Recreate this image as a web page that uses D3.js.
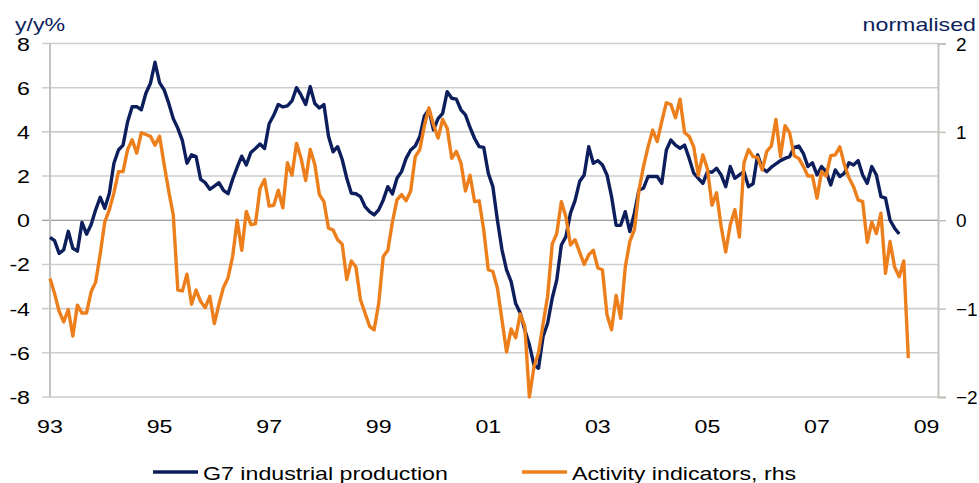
<!DOCTYPE html>
<html>
<head>
<meta charset="utf-8">
<script src="https://cdn.jsdelivr.net/npm/d3@7"></script>
<style>
  body { margin: 0; background: #fff; overflow: hidden; }
  svg { display: block; }
  svg text { font-family: "Liberation Sans", Arial, sans-serif; }
</style>
</head>
<body>
<div id="chart"></div>
<script>
// monthly values, Jan 1993 onwards
const yearTicks = ["93", "95", "97", "99", "01", "03", "05", "07", "09"];
const leftTicks = [-8, -6, -4, -2, 0, 2, 4, 6, 8];
const rightTicks = [-2, -1, 0, 1, 2];
const seriesNames = ["G7 industrial production", "Activity indicators, rhs"];

// G7 industrial production, % y/y (lhs)
const g7Production = [
  -0.77, -0.92, -1.5, -1.34, -0.5, -1.27, -1.4, -0.1, -0.63, -0.2, 0.47, 1.04,
  0.54, 1.22, 2.58, 3.18, 3.4, 4.46, 5.14, 5.14, 5.0, 5.75, 6.2, 7.15,
  6.23, 5.9, 5.3, 4.6, 4.16, 3.6, 2.58, 2.96, 2.88, 1.85, 1.7, 1.4,
  1.55, 1.7, 1.35, 1.2, 1.85, 2.4, 2.9, 2.5, 3.07, 3.25, 3.45, 3.25,
  4.37, 4.75, 5.24, 5.13, 5.18, 5.4, 6.0, 5.66, 5.24, 6.05, 5.28, 5.08,
  5.24, 3.8, 3.1, 3.33, 2.75, 1.9, 1.22, 1.2, 1.07, 0.62, 0.39, 0.24,
  0.47, 0.92, 1.52, 1.19, 1.9, 2.2, 2.8, 3.18, 3.36, 3.79, 4.72, 5.0,
  4.09, 4.6, 4.84, 5.82, 5.52, 5.48, 5.0, 4.77, 4.2, 3.7, 3.33, 3.3,
  2.13, 1.52, 0.0, -1.34, -2.25, -2.78, -3.77, -4.2, -4.97, -5.64, -6.55, -6.7,
  -5.26, -4.66, -3.53, -2.7, -1.12, -0.74, 0.32, 0.89, 1.75, 2.05, 3.33, 2.58,
  2.7, 2.5, 2.05, 1.07, -0.23, -0.23, 0.39, -0.51, 0.32, 1.37, 1.45, 1.98,
  1.98, 1.98, 1.67, 3.18, 3.63, 3.4, 3.26, 3.4, 2.8, 2.13, 1.9, 1.67,
  2.2, 2.17, 2.35, 2.05, 1.52, 2.43, 1.9, 2.05, 2.2, 1.52, 1.65, 2.96,
  2.35, 2.2, 2.4, 2.55, 2.7, 2.8, 2.88, 3.3, 3.36, 3.03, 2.43, 2.6,
  2.05, 2.43, 2.2, 1.6, 2.28, 1.98, 2.13, 2.6, 2.5, 2.7, 2.05, 1.67,
  2.43, 2.05, 1.07, 1.0, 0.0, -0.36, -0.62
];

// Activity indicators, normalised (rhs)
const activityIndicators = [
  -0.66, -0.83, -1.03, -1.15, -1.01, -1.31, -0.96, -1.05, -1.05, -0.81, -0.70, -0.38,
  -0.02, 0.12, 0.31, 0.55, 0.55, 0.80, 0.91, 0.76, 0.99, 0.97, 0.95, 0.85,
  0.95, 0.63, 0.33, 0.06, -0.79, -0.80, -0.61, -0.95, -0.79, -0.92, -0.99, -0.86,
  -1.17, -0.95, -0.76, -0.65, -0.41, 0.00, -0.34, 0.10, -0.05, -0.04, 0.36, 0.46,
  0.16, 0.17, 0.34, 0.14, 0.65, 0.51, 0.87, 0.70, 0.45, 0.80, 0.63, 0.29,
  0.21, -0.09, -0.11, -0.22, -0.27, -0.67, -0.46, -0.53, -0.90, -1.05, -1.20, -1.24,
  -0.94, -0.41, -0.34, -0.02, 0.23, 0.29, 0.22, 0.33, 0.72, 0.80, 1.07, 1.27,
  1.08, 0.93, 1.14, 1.04, 0.70, 0.78, 0.65, 0.33, 0.51, 0.21, 0.22, -0.11,
  -0.56, -0.58, -0.77, -1.13, -1.49, -1.23, -1.33, -1.06, -1.20, -2.00, -1.66, -1.50,
  -1.17, -0.86, -0.27, -0.15, 0.21, 0.04, -0.28, -0.22, -0.36, -0.50, -0.39, -0.34,
  -0.54, -0.56, -1.07, -1.24, -0.85, -1.11, -0.53, -0.24, -0.11, 0.34, 0.61, 0.83,
  1.02, 0.89, 1.12, 1.33, 1.31, 1.16, 1.37, 0.99, 0.95, 0.83, 0.51, 0.74,
  0.58, 0.17, 0.31, -0.07, -0.36, -0.05, 0.12, -0.19, 0.65, 0.80, 0.72, 0.71,
  0.57, 0.78, 0.84, 1.14, 0.72, 1.07, 0.99, 0.73, 0.70, 0.61, 0.50, 0.50,
  0.25, 0.55, 0.50, 0.73, 0.74, 0.83, 0.63, 0.48, 0.38, 0.23, 0.21, -0.25,
  -0.02, -0.15, 0.08, -0.60, -0.24, -0.53, -0.64, -0.46, -1.56
];

const width = 979;
const height = 483;
const margin = { top: 43.5, right: 41, bottom: 86, left: 50 };
const innerWidth = width - margin.left - margin.right;
const innerHeight = height - margin.top - margin.bottom;

const navy = "#0c1f5c";
const orange = "#ec7f1b";
const fontSize = 19;

const svg = d3.select("#chart")
  .append("svg")
  .attr("width", width)
  .attr("height", height);

const g = svg.append("g")
  .attr("transform", `translate(${margin.left}, ${margin.top})`);

// the original type is set wide: stretch glyphs with textLength
function label(parent, x, y, str, anchor, color, stretch = 1.22) {
  const t = parent.append("text")
    .attr("x", x)
    .attr("y", y)
    .attr("text-anchor", anchor)
    .attr("font-size", fontSize)
    .attr("fill", color || "#000")
    .text(str);
  const w = t.node().getComputedTextLength();
  if (stretch !== 1) {
    t.attr("textLength", w * stretch).attr("lengthAdjust", "spacingAndGlyphs");
  }
  return t;
}

// month index on x
const xScale = d3.scaleLinear()
  .domain([0, 194.5])
  .range([0, innerWidth]);

const yLeft = d3.scaleLinear().domain([-8, 8]).range([innerHeight, 0]);
const yRight = d3.scaleLinear().domain([-2, 2]).range([innerHeight, 0]);

// gridlines with outer tick marks on the left
g.append("g")
  .selectAll("line")
  .data(leftTicks)
  .enter()
  .append("line")
  .attr("x1", -8)
  .attr("x2", innerWidth)
  .attr("y1", d => yLeft(d))
  .attr("y2", d => yLeft(d))
  .attr("stroke", d => d === 0 ? "#7f7f7f" : "#cdcdcd")
  .attr("stroke-width", d => d === 0 ? 1.2 : 1.6);

// left axis
g.append("line")
  .attr("x1", 0).attr("x2", 0)
  .attr("y1", 0).attr("y2", innerHeight)
  .attr("stroke", "#c4c2bd").attr("stroke-width", 2);
leftTicks.forEach(t => label(g, -20, yLeft(t) + 7, String(t), "end"));

// right axis
const rightAxis = d3.axisRight(yRight).tickValues(rightTicks).tickSize(8).tickFormat("");
const ra = g.append("g")
  .attr("transform", `translate(${innerWidth}, 0)`)
  .call(rightAxis);
ra.select(".domain").attr("stroke", "#c4c2bd").attr("stroke-width", 2);
ra.selectAll(".tick line").attr("stroke", "#c4c2bd").attr("stroke-width", 1.6);
rightTicks.forEach(t => label(g, innerWidth + 18, yRight(t) + 7, d3.format("d")(t), "start", "#000", 1));

// bottom labels
yearTicks.forEach((t, i) => label(g, xScale(i * 24), innerHeight + 36, t, "middle"));

// axis titles
label(svg, 15, 31, "y/y%", "start", navy);
label(svg, 976, 31, "normalised", "end", navy);

// series
const lineLeft = d3.line()
  .x((d, i) => xScale(i))
  .y(d => yLeft(d));

const lineRight = d3.line()
  .x((d, i) => xScale(i))
  .y(d => yRight(d));

g.append("path")
  .datum(g7Production)
  .attr("fill", "none")
  .attr("stroke", navy)
  .attr("stroke-width", 3.4)
  .attr("stroke-linejoin", "round")
  .attr("d", lineLeft);

g.append("path")
  .datum(activityIndicators)
  .attr("fill", "none")
  .attr("stroke", orange)
  .attr("stroke-width", 3.4)
  .attr("stroke-linejoin", "round")
  .attr("d", lineRight);

// legend
const legendItems = [
  { name: seriesNames[0], color: navy, x: 153 },
  { name: seriesNames[1], color: orange, x: 522 }
];
legendItems.forEach(d => {
  svg.append("line")
    .attr("x1", d.x).attr("x2", d.x + 45)
    .attr("y1", 472).attr("y2", 472)
    .attr("stroke", d.color)
    .attr("stroke-width", 3.4);
  label(svg, d.x + 50, 480, d.name, "start");
});
</script>
</body>
</html>
